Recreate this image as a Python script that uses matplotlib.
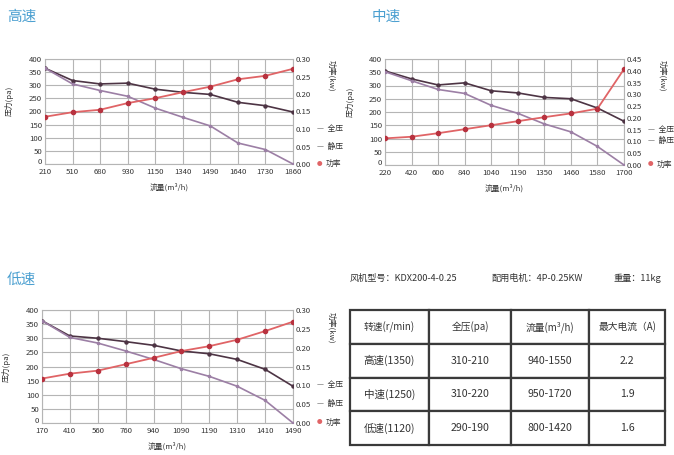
import matplotlib
matplotlib.use("Agg")
import matplotlib.pyplot as plt
import numpy as np

plt.rcParams['font.family'] = ['Noto Sans CJK SC', 'DejaVu Sans']

# ---------------- data ----------------
high_flow = ['210', '510', '680', '930', '1150', '1340', '1490', '1640', '1730', '1860']
high_full = [365, 318, 305, 308, 285, 273, 265, 235, 222, 198]
high_static = [365, 305, 280, 258, 213, 178, 145, 80, 55, 0]
high_power = [0.135, 0.148, 0.155, 0.174, 0.188, 0.205, 0.221, 0.242, 0.252, 0.272]

mid_flow = ['220', '420', '600', '840', '1040', '1190', '1350', '1460', '1580', '1700']
mid_full = [355, 325, 302, 310, 280, 272, 255, 250, 215, 165]
mid_static = [352, 318, 285, 270, 225, 195, 155, 125, 70, 0]
mid_power = [0.113, 0.120, 0.135, 0.152, 0.169, 0.186, 0.203, 0.219, 0.239, 0.407]

low_flow = ['170', '410', '560', '760', '940', '1090', '1190', '1310', '1410', '1490']
low_full = [362, 308, 300, 288, 275, 255, 245, 225, 190, 130]
low_static = [362, 303, 283, 255, 225, 192, 165, 130, 80, 0]
low_power = [0.118, 0.131, 0.139, 0.156, 0.173, 0.191, 0.204, 0.221, 0.244, 0.269]

pressure_ticks = [0, 50, 100, 150, 200, 250, 300, 350, 400]
power_ticks_a = [0.00, 0.05, 0.10, 0.15, 0.20, 0.25, 0.30]
power_ticks_b = [0.00, 0.05, 0.10, 0.15, 0.20, 0.25, 0.30, 0.35, 0.40, 0.45]

info_model = '风机型号：KDX200-4-0.25'
info_motor = '配用电机：4P-0.25KW'
info_weight = '重量：11kg'
table_header = ['转速(r/min)', '全压(pa)', '流量(m³/h)', '最大电流（A)']
table_speed = ['高速(1350)', '中速(1250)', '低速(1120)']
table_pressure = ['310-210', '310-220', '290-190']
table_flow = ['940-1550', '950-1720', '800-1420']
table_current = ['2.2', '1.9', '1.6']

# ---------------- style ----------------
C_FULL = '#4d3444'
C_STATIC = '#9c7fa5'
C_POWER = '#e06466'
C_PMARK = '#b8323f'
C_GRID = '#b5b5b5'
C_TITLE = '#4a9fd0'
C_TEXT = '#333333'
FS = 5.6

fig = plt.figure(figsize=(6.74, 4.55), dpi=100)
W, H = 674.0, 455.0


def box(l, r, t, b):
    return [l / W, 1 - b / H, (r - l) / W, (b - t) / H]


def chart(rect, title, title_xy, flows, full, static, power, pticks, leg_fracs, ylab_y):
    ax = fig.add_axes(rect)
    ax.plot(flows, full, color=C_FULL, lw=1.2, marker='o', ms=2.2, zorder=3)
    ax.plot(flows, static, color=C_STATIC, lw=1.2, marker='o', ms=1.6, zorder=3)
    ax.set_ylim(0, 400)
    ax.set_xlim(0, len(flows) - 1)
    ax.set_yticks(pressure_ticks)
    ax.grid(True, color=C_GRID, lw=0.8)
    ax.set_axisbelow(True)
    ax.tick_params(length=0, labelsize=FS, colors=C_TEXT, pad=2)
    ax.tick_params(axis='x', pad=3)
    ax.get_yticklabels()[0].set_va('baseline')
    for s in ax.spines.values():
        s.set_color(C_GRID)
        s.set_linewidth(0.8)
    ax.set_xlabel('流量(m³/h)', fontsize=FS, color=C_TEXT, labelpad=5)
    ax.set_ylabel('压力(pa)', fontsize=FS, color=C_TEXT)
    ax.yaxis.set_label_coords(-0.125, ylab_y)

    ax2 = ax.twinx()
    ax2.plot(flows, power, color=C_POWER, lw=1.3, marker='o', ms=3.0,
             mfc=C_PMARK, mec=C_PMARK, zorder=4)
    ax2.set_ylim(0, pticks[-1])
    ax2.set_yticks(pticks)
    ax2.set_yticklabels(['%.2f' % v for v in pticks])
    ax2.tick_params(length=0, labelsize=FS, colors=C_TEXT, pad=2)
    for s in ax2.spines.values():
        s.set_visible(False)
    ax2.annotate('功率(kw)', xy=(1, 0.84), xycoords='axes fraction', xytext=(38, 0),
                 textcoords='offset pixels', rotation=270, va='center', ha='center',
                 fontsize=FS, color=C_TEXT)
    # legend
    ax2.annotate('—  全压', xy=(1, leg_fracs[0]), xycoords='axes fraction', xytext=(24, 0),
                 textcoords='offset pixels', va='center', ha='left', fontsize=FS, color=C_TEXT)
    ax2.annotate('—  静压', xy=(1, leg_fracs[1]), xycoords='axes fraction', xytext=(24, 0),
                 textcoords='offset pixels', va='center', ha='left', fontsize=FS, color=C_TEXT)
    ax2.annotate('●', xy=(1, leg_fracs[2]), xycoords='axes fraction', xytext=(24, 0),
                 textcoords='offset pixels', va='center', ha='left', fontsize=4, color=C_POWER)
    ax2.annotate('功率', xy=(1, leg_fracs[2]), xycoords='axes fraction', xytext=(33, 0),
                 textcoords='offset pixels', va='center', ha='left', fontsize=FS, color=C_TEXT)
    fig.text(title_xy[0] / W, 1 - title_xy[1] / H, title, fontsize=10.5, color=C_TITLE,
             ha='left', va='center')
    return ax


chart(box(45, 293, 59, 164), '高速', (7, 17), high_flow, high_full, high_static, high_power,
      power_ticks_a, (0.3333, 0.1667, 0.0), 0.6)
chart(box(385, 624, 59, 165), '中速', (372, 17), mid_flow, mid_full, mid_static, mid_power,
      power_ticks_b, (0.3333, 0.2222, 0.0), 0.6)
chart(box(42, 293, 310, 423), '低速', (7, 280), low_flow, low_full, low_static, low_power,
      power_ticks_a, (0.3333, 0.1667, 0.0), 0.5)

# info line
fig.text(350 / W, 1 - 278 / H, info_model, fontsize=6.6, color=C_TEXT, va='center')
fig.text(491 / W, 1 - 278 / H, info_motor, fontsize=6.6, color=C_TEXT, va='center')
fig.text(613 / W, 1 - 278 / H, info_weight, fontsize=6.6, color=C_TEXT, va='center')

# table
tax = fig.add_axes(box(350, 665, 310, 445))
tax.axis('off')
cells = [table_header] + [[a, b, c, d] for a, b, c, d in
                          zip(table_speed, table_pressure, table_flow, table_current)]
tbl = tax.table(cellText=cells, cellLoc='center', bbox=[0, 0, 1, 1],
                colWidths=[79, 82, 78, 76])
tbl.auto_set_font_size(False)
for (r, c), cell in tbl.get_celld().items():
    cell.set_edgecolor('#3a3a3a')
    cell.set_linewidth(1.6)
    cell.get_text().set_fontsize(7.6 if r > 0 else 7.0)
    cell.get_text().set_color(C_TEXT)

fig.savefig('out.png', dpi=100)
